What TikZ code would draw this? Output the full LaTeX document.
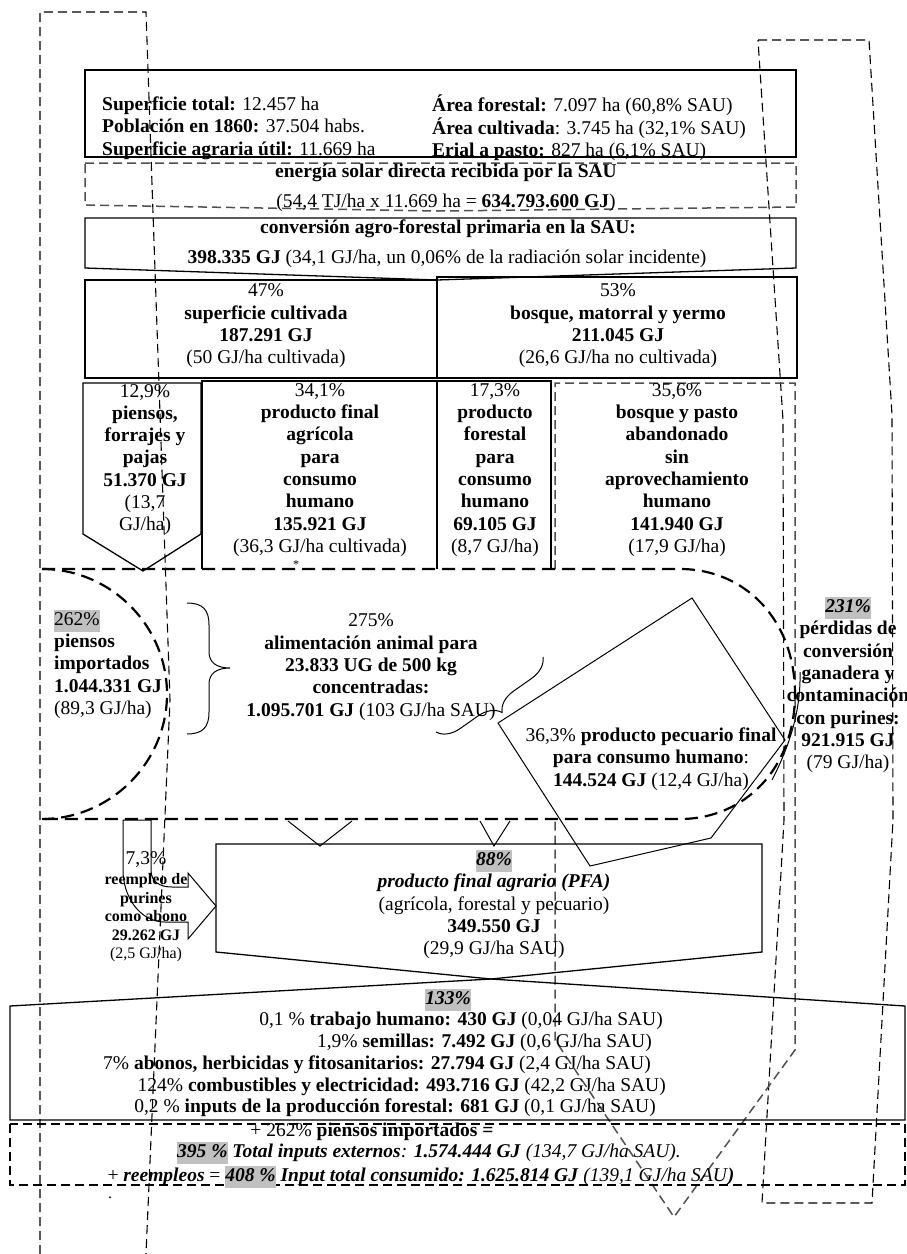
\documentclass[tikz,border=0pt]{standalone}
\usepackage{fontspec}
\setmainfont{Liberation Serif}
\usetikzlibrary{decorations.pathreplacing}
\definecolor{hlgray}{RGB}{192,192,192}
\definecolor{dashgray}{RGB}{80,80,80}
\newcommand{\hlbox}[1]{{\setlength{\fboxsep}{0pt}\colorbox{hlgray}{\strut#1}}}
\newcommand{\bodyfont}{\fontsize{19.5}{22.3}\selectfont}
\newcommand{\smallfont}{\fontsize{16}{18.5}\selectfont}

\begin{document}
\begin{tikzpicture}[x=1pt,y=-1pt,
  solidline/.style={line width=1.3pt},
  thinline/.style={line width=1pt},
  thindash/.style={line width=1.1pt,dash pattern=on 9pt off 5pt},
  heavydash/.style={line width=2.2pt,dash pattern=on 13pt off 7pt},
  greydash/.style={line width=1.5pt,draw=dashgray,dash pattern=on 9pt off 5pt},
  txt/.style={inner sep=0pt,align=center,font=\bodyfont},
  lefttxt/.style={inner sep=0pt,align=left,anchor=west,font=\bodyfont},
  smalltxt/.style={inner sep=0pt,align=center,font=\smallfont}]
  \useasboundingbox (0,0) rectangle (907,1254);

  % long dashed frames left and right
  \draw[thindash] (40,1254) -- (40,12) -- (146,12) -- (170,700) -- (146,1254);
  \draw[thindash] (758,40) -- (869,40) -- (892,415) -- (893,820) -- (872,1203)
    -- (762,1203) -- (784,820) -- (783,420) -- cycle;

  % data of the municipality
  \draw[solidline] (85,70) rectangle (796,157);
  \node[lefttxt] (datosizq) at (102,128) {\textbf{Superficie total:} 12.457 ha\\
    \textbf{Población en 1860:} 37.504 habs.\\
    \textbf{Superficie agraria útil:} 11.669 ha};
  \node[lefttxt] (datosder) at (432,128) {\textbf{Área forestal:} 7.097 ha (60,8\% SAU)\\
    \textbf{Área cultivada}: 3.745 ha (32,1\% SAU)\\
    \textbf{Erial a pasto:} 827 ha (6,1\% SAU)};

  % solar energy
  \draw[greydash] (85,163) -- (796,163) -- (796,207) -- (438,211) -- (85,205) -- cycle;
  \node[txt] (solar) at (446,173) {\textbf{energía solar directa recibida por la SAU}};
  \node[txt] (solarval) at (446,203) {(54,4 TJ/ha x 11.669 ha = \textbf{634.793.600 GJ})};

  % primary conversion
  \draw[solidline] (85,218) -- (796,218) -- (796,268) -- (437,280) -- (85,268) -- cycle;
  \node[txt] (conversion) at (448,229) {\textbf{conversión agro-forestal primaria en la SAU:}};
  \node[txt] (conversionval) at (447,259) {\textbf{398.335 GJ} (34,1 GJ/ha, un 0,06\% de la radiación solar incidente)};

  % cultivated / forest
  \draw[solidline] (85,280) rectangle (437,378);
  \draw[solidline] (437,277) rectangle (797,378);
  \node[txt] (cultivada) at (266,326) {47\%\\\textbf{superficie cultivada}\\\textbf{187.291 GJ}\\(50 GJ/ha cultivada)};
  \node[txt] (bosque) at (618,326) {53\%\\\textbf{bosque, matorral y yermo}\\\textbf{211.045 GJ}\\(26,6 GJ/ha no cultivada)};

  % four uses
  \draw[solidline] (83,383) -- (201,383) -- (201,534) -- (143,571) -- (83,534) -- cycle;
  \draw[solidline] (202,569) -- (202,381) -- (551,381) -- (551,569);
  \draw[solidline] (437,381) -- (437,569);
  \draw[greydash] (555,569) -- (555,383) -- (795,383) -- (795,1050) -- (674,1217)
    -- (555,1040) -- (555,819);
  \node[txt] (piensos) at (145,459.5) {12,9\%\\\textbf{piensos,}\\\textbf{forrajes y}\\\textbf{pajas}\\\textbf{51.370 GJ}\\(13,7\\GJ/ha)};
  \node[txt] (agricola) at (320,470) {34,1\%\\\textbf{producto final}\\\textbf{agrícola}\\\textbf{para}\\\textbf{consumo}\\\textbf{humano}\\\textbf{135.921 GJ}\\(36,3 GJ/ha cultivada)};
  \node[inner sep=0pt,font=\fontsize{12}{14}\selectfont] (asterisco) at (296,565) {*};
  \node[txt] (forestal) at (495,470) {17,3\%\\\textbf{producto}\\\textbf{forestal}\\\textbf{para}\\\textbf{consumo}\\\textbf{humano}\\\textbf{69.105 GJ}\\(8,7 GJ/ha)};
  \node[txt] (abandono) at (677,470) {35,6\%\\\textbf{bosque y pasto}\\\textbf{abandonado}\\\textbf{sin}\\\textbf{aprovechamiento}\\\textbf{humano}\\\textbf{141.940 GJ}\\(17,9 GJ/ha)};

  % livestock feeding
  \draw[heavydash] (42,569) -- (680,569) .. controls (745,569) and (795,620) .. (795,694)
    .. controls (795,768) and (745,819) .. (680,819) -- (42,819);
  \draw[heavydash] (42,569) .. controls (110,569) and (167,625) .. (167,694)
    .. controls (167,763) and (110,819) .. (42,819);
  \draw[thinline] (800,672) .. controls (801,710) and (790,745) .. (772,780);
  \node[lefttxt] (importados) at (54,664) {\hlbox{262\%}\\\textbf{piensos}\\\textbf{importados}\\\textbf{1.044.331 GJ}\\(89,3 GJ/ha)};
  \draw[thinline] (187,603) .. controls (203,603) and (209,610) .. (209,625) -- (209,652)
    .. controls (209,662) and (216,668) .. (230,668) .. controls (216,668) and (209,674) .. (209,684)
    -- (209,712) .. controls (209,727) and (203,734) .. (187,734);
  \node[txt] (alimentacion) at (371,667) {275\%\\\textbf{alimentación animal para}\\\textbf{23.833 UG de 500 kg}\\\textbf{concentradas:}\\\textbf{1.095.701 GJ} (103 GJ/ha SAU)};
  \draw[thinline,decorate,decoration={brace,amplitude=22pt}] (543,657) -- (436,732);
  \draw[thinline] (692,598) -- (785,740) -- (711,838) -- (590,866) -- (498,723) -- cycle;
  \node[txt] (pecuario) at (651,759) {36,3\% \textbf{producto pecuario final}\\\textbf{para consumo humano}:\\\textbf{144.524 GJ} (12,4 GJ/ha)};
  \node[txt] (perdidas) at (848,685) {\hlbox{\textbf{\textit{231\%}}}\\\textbf{pérdidas de}\\\textbf{conversión}\\\textbf{ganadera y}\\\textbf{contaminación}\\\textbf{con purines:}\\\textbf{921.915 GJ}\\(79 GJ/ha)};

  % final agrarian product
  \draw[thinline] (288,821) -- (320,846) -- (352,821);
  \draw[thinline] (480,821) -- (494,846) -- (510,821);
  \draw[thinline] (123,820) -- (151,820) -- (151,870) .. controls (151,882) and (160,887) .. (172,887)
    -- (188,887) -- (188,873) -- (216,906) -- (188,939) -- (188,922) -- (165,922)
    .. controls (140,922) and (123,897) .. (123,870) -- cycle;
  \node[txt] (reempleopc) at (146,860) {7,3\%};
  \node[smalltxt] (reempleo) at (146,918) {\textbf{reempleo de}\\\textbf{purines}\\\textbf{como abono}\\\textbf{29.262 GJ}\\(2,5 GJ/ha)};
  \draw[solidline] (216,844) -- (762,844) -- (762,952) -- (491,979) -- (216,952) -- cycle;
  \node[txt] (pfa) at (494,904.5) {\hlbox{\textbf{\textit{88\%}}}\\\textbf{\textit{producto final agrario (PFA)}}\\(agrícola, forestal y pecuario)\\\textbf{349.550 GJ}\\(29,9 GJ/ha SAU)};

  % external inputs
  \draw[solidline] (10,1006) -- (491,979) -- (905,1006) -- (905,1120) -- (10,1120) -- cycle;
  \node[txt] (inputspc) at (448,1000) {\hlbox{\textbf{\textit{133\%}}}};
  \node[txt,anchor=east] (trabajo) at (663,1021) {0,1 \% \textbf{trabajo humano: 430 GJ} (0,04 GJ/ha SAU)};
  \node[txt,anchor=east] (semillas) at (652,1043) {1,9\% \textbf{semillas: 7.492 GJ} (0,6 GJ/ha SAU)};
  \node[txt,anchor=east] (abonos) at (651,1065) {7\% \textbf{abonos, herbicidas y fitosanitarios: 27.794 GJ} (2,4 GJ/ha SAU)};
  \node[txt,anchor=east] (combustibles) at (666,1087) {124\% \textbf{combustibles y electricidad: 493.716 GJ} (42,2 GJ/ha SAU)};
  \node[txt,anchor=east] (forestalin) at (656,1108) {0,2 \% \textbf{inputs de la producción forestal: 681 GJ} (0,1 GJ/ha SAU)};

  % totals
  \draw[thindash] (10,1124) rectangle (905,1185);
  \node[txt] (totalpiensos) at (372,1132) {+ 262\% \textbf{piensos importados =}};
  \node[txt] (totalext) at (429,1153) {\hlbox{\textbf{\textit{395 \%}}} \textbf{\textit{Total inputs externos}}\textit{:} \textbf{\textit{1.574.444 GJ}} \textit{(134,7 GJ/ha SAU).}};
  \node[txt] (totalcons) at (421,1177) {+ \textbf{\textit{reempleos}} = \hlbox{\textbf{\textit{408 \%}}} \textbf{\textit{Input total consumido: 1.625.814 GJ}} \textit{(139,1 GJ/ha SAU}\textbf{\textit{)}}};
  \node[smalltxt] (punto) at (110,1198) {.};
\end{tikzpicture}
\end{document}
